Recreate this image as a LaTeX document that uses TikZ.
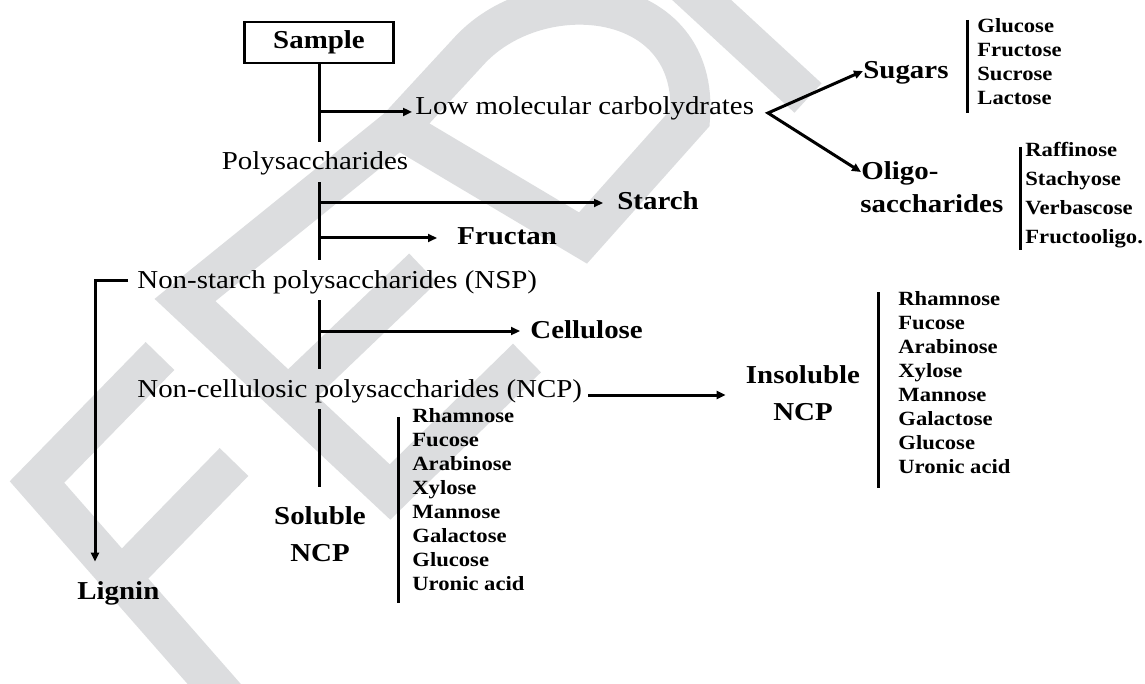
\documentclass[tikz,border=0pt]{standalone}
\usepackage{fontspec}
\setmainfont{Liberation Serif}[FakeStretch=1.12]
\usetikzlibrary{arrows.meta}
\definecolor{wm}{RGB}{220,221,223}
\begin{document}
\begin{tikzpicture}[x=0.5pt,y=-0.5pt,
  ln/.style={line width=1.5pt},
  tip/.tip={Triangle[length=4.5pt,width=4pt]},
  arr/.style={ln,-tip},
  mn/.style={inner xsep=0pt,inner ysep=4pt,text height=10pt,text depth=2pt,font=\fontsize{12.9}{15}\selectfont},
  bmn/.style={mn,font=\fontsize{12.9}{15}\selectfont\bfseries},
  itm/.style={inner sep=0pt,font=\fontsize{10.1}{12}\selectfont\bfseries},
  wmk/.style={draw=wm,line width=20pt,line cap=butt,line join=miter}]
\useasboundingbox (0,0) rectangle (1145,684);
\fill[white] (0,0) rectangle (1145,684);
% watermark
\begin{scope}
\clip (0,0) rectangle (1145,684);
\draw[wmk] (160,356) -- (37,482) -- (230,702);
\draw[wmk] (121,578) -- (234,462);
\draw[wmk] (527,358) -- (390,492) -- (185,300) -- (398,128);
\draw[wmk] (287,398) -- (423,268);
\draw[wmk] (398,128) -- (470,50) .. controls (540,-25) and (700,-10) .. (690,118) -- (583,238) -- cycle;
\draw[wmk] (680,-20) -- (808,98);
\end{scope}
% nodes
\node[draw,line width=1.2pt,minimum width=74.5pt,minimum height=20.5pt,inner sep=0pt,font=\fontsize{12.9}{15}\selectfont\bfseries] (sample) at (319,42.5) {Sample};
\node[mn,anchor=base west] (low) at (415,115) {Low molecular carbolydrates};
\node[mn,anchor=base] (poly) at (315,170) {Polysaccharides};
\node[bmn,anchor=base west] (starch) at (617,210) {Starch};
\node[bmn,anchor=base west] (fructan) at (457,245) {Fructan};
\node[mn,anchor=base west] (nsp) at (137,288) {Non-starch polysaccharides (NSP)};
\node[bmn,anchor=base west] (cell) at (530,338) {Cellulose};
\node[mn,anchor=base west] (ncp) at (137,397) {Non-cellulosic polysaccharides (NCP)};
\node[bmn,anchor=base] (sol) at (320,524) {Soluble};
\node[bmn,anchor=base] (solb) at (320,561) {NCP};
\node[bmn,anchor=base] (ins) at (803,383) {Insoluble};
\node[bmn,anchor=base] (insb) at (803,420) {NCP};
\node[bmn,anchor=base west] (lignin) at (77,599) {Lignin};
\node[bmn,anchor=base west] (sugars) at (863,79) {Sugars};
\node[bmn,anchor=base west] (oligo) at (861,180) {Oligo-};
\node[bmn,anchor=base west] (oligob) at (860,213) {saccharides};
% lists
\foreach \t [count=\i from 0] in {Glucose,Fructose,Sucrose,Lactose}
  \node[itm,anchor=base west] (sg\i) at (977,{33+24*\i}) {\t};
\foreach \t [count=\i from 0] in {Raffinose,Stachyose,Verbascose,Fructooligo.}
  \node[itm,anchor=base west] (og\i) at (1025,{157+28.7*\i}) {\t};
\foreach \t [count=\i from 0] in {Rhamnose,Fucose,Arabinose,Xylose,Mannose,Galactose,Glucose,Uronic acid}
  \node[itm,anchor=base west] (in\i) at (898,{305+24*\i}) {\t};
\foreach \t [count=\i from 0] in {Rhamnose,Fucose,Arabinose,Xylose,Mannose,Galactose,Glucose,Uronic acid}
  \node[itm,anchor=base west] (so\i) at (412,{422+24*\i}) {\t};
\draw[ln] (967,20) -- (967,113);
\draw[ln] (1020,147) -- (1020,250);
\draw[ln] (878,292) -- (878,488);
\draw[ln] (398,417) -- (398,603);
% main trunk
\draw[ln] (sample.south) -- (sample.south |- poly.north);
\draw[ln] (sample.south |- poly.south) -- (sample.south |- nsp.north);
\draw[ln] (sample.south |- nsp.south) -- (sample.south |- ncp.north);
\draw[ln,shorten >=4.5pt] (sample.south |- ncp.south) -- (sample.south |- sol.north);
% branches
\coordinate (b1) at (319,112);
\coordinate (b2) at (319,203);
\coordinate (b3) at (319,238);
\coordinate (b4) at (319,331);
\draw[arr,shorten >=1.5pt] (b1) -- (b1 -| low.west);
\draw[arr,shorten >=7pt] (b2) -- (b2 -| starch.west);
\draw[arr,shorten >=10pt] (b3) -- (b3 -| fructan.west);
\draw[arr,shorten >=5pt] (b4) -- (b4 -| cell.west);
\coordinate (n1) at (588,395);
\draw[arr,shorten >=10pt] (n1) -- (n1 -| ins.west);
\coordinate (lc) at (95,280);
\draw[arr,line join=miter,shorten <=4.5pt,shorten >=4.5pt] (nsp.west) -- (lc) -- (lc |- lignin.north);
\coordinate (J) at (768,113);
\draw[ln,tip-tip,line join=miter] (sugars.west) -- (J) -- (oligo.west);
\end{tikzpicture}
\end{document}
